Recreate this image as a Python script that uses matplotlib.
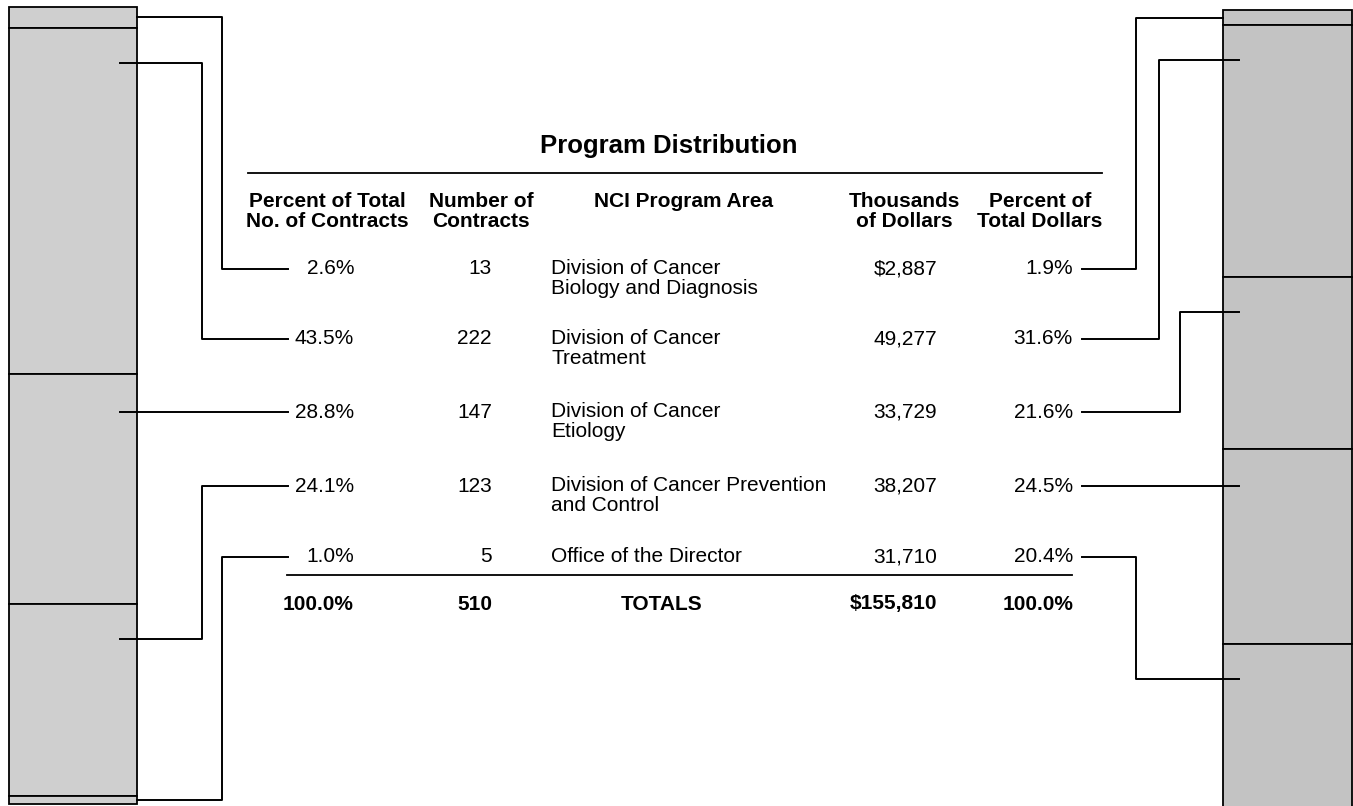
import matplotlib
matplotlib.use("Agg")
import matplotlib.pyplot as plt

plt.rcParams["font.family"] = ["Liberation Sans", "DejaVu Sans"]

# table data
pct_contracts = [2.6, 43.5, 28.8, 24.1, 1.0]
num_contracts = [13, 222, 147, 123, 5]
program_areas = [
    "Division of Cancer\nBiology and Diagnosis",
    "Division of Cancer\nTreatment",
    "Division of Cancer\nEtiology",
    "Division of Cancer Prevention\nand Control",
    "Office of the Director",
]
dollars_k = [2887, 49277, 33729, 38207, 31710]
pct_dollars = [1.9, 31.6, 21.6, 24.5, 20.4]

headers = [
    "Percent of Total\nNo. of Contracts",
    "Number of\nContracts",
    "NCI Program Area",
    "Thousands\nof Dollars",
    "Percent of\nTotal Dollars",
]

W, H = 1353, 806
fig = plt.figure(figsize=(W / 100, H / 100), dpi=100)

# overlay axes in pixel units, drawn above the bars
ax = fig.add_axes([0, 0, 1, 1])
ax.set_xlim(0, W)
ax.set_ylim(H, 0)
ax.axis("off")
ax.set_zorder(3)


def add_bar_axes(x0, x1, top_px):
    # 100 % of a bar spans 797 px
    bax = fig.add_axes([x0 / W, (H - top_px - 797) / H, (x1 - x0) / W, 797 / H])
    bax.set_xlim(-0.5, 0.5)
    bax.set_ylim(100, 0)
    bax.axis("off")
    bax.set_zorder(1)
    return bax


def stacked_bar(bax, values, color):
    bottom = 0
    for v in values:
        bax.bar(0, v, bottom=bottom, width=1, color=color,
                edgecolor="black", linewidth=1.3, clip_on=False)
        bottom += v


left_bar = add_bar_axes(9, 137, 7)
right_bar = add_bar_axes(1223, 1352, 10)
stacked_bar(left_bar, pct_contracts, "#cfcfcf")
stacked_bar(right_bar, pct_dollars, "#c3c3c3")


def to_px(bax, v):
    disp = bax.transData.transform((0, v))
    return ax.transData.inverted().transform(disp)[1]


# layout of rows and columns (pixels)
row_y = [269, 339, 412, 486, 557]
fs = 15
ls = 1.05

col_pct_c = 354
col_num = 492
col_area = 551
col_dol = 937
col_pct_d = 1073

ax.text(669, 153, "Program Distribution", fontsize=18.5, fontweight="bold",
        ha="center", va="baseline")
ax.plot([248, 1102], [173, 173], color="black", lw=1.3)

hx = [327, 481, 684, 904, 1040]
for x, h in zip(hx, headers):
    ax.text(x, 192, h, fontsize=fs, fontweight="bold", ha="center", va="top",
            multialignment="center", linespacing=ls)

for i, y in enumerate(row_y):
    ax.text(col_pct_c, y, f"{pct_contracts[i]:.1f}%", fontsize=fs, ha="right", va="center")
    ax.text(col_num, y, f"{num_contracts[i]}", fontsize=fs, ha="right", va="center")
    ax.text(col_area, y - 10, program_areas[i], fontsize=fs, ha="left", va="top",
            linespacing=ls)
    dol = f"{dollars_k[i]:,}"
    if i == 0:
        dol = "$" + dol
    ax.text(col_dol, y, dol, fontsize=fs, ha="right", va="center")
    ax.text(col_pct_d, y, f"{pct_dollars[i]:.1f}%", fontsize=fs, ha="right", va="center")

ax.plot([287, 1072], [575, 575], color="black", lw=1.3)
ty = 604
ax.text(col_pct_c, ty, f"{sum(pct_contracts):.1f}%", fontsize=fs, fontweight="bold", ha="right", va="center")
ax.text(col_num, ty, f"{sum(num_contracts)}", fontsize=fs, fontweight="bold", ha="right", va="center")
ax.text(662, ty, "TOTALS", fontsize=fs, fontweight="bold", ha="center", va="center")
ax.text(col_dol, ty, f"${sum(dollars_k):,}", fontsize=fs, fontweight="bold", ha="right", va="center")
ax.text(col_pct_d, ty, f"{sum(pct_dollars):.1f}%", fontsize=fs, fontweight="bold", ha="right", va="center")


def connectors(bax, values, start_x, elbows, edge_x, inner_x):
    top = 0
    for v, y, ex in zip(values, row_y, elbows):
        if ex is None:
            ax.plot([start_x, inner_x], [y, y], color="black", lw=1.4)
        else:
            if v < 5:
                ty_ = to_px(bax, top + v / 2)
                end = edge_x
            else:
                ty_ = to_px(bax, top + 4.4)
                end = inner_x
            ax.plot([start_x, ex, ex, end], [y, y, ty_, ty_], color="black", lw=1.4)
        top += v


connectors(left_bar, pct_contracts, 288, [222, 202, None, 202, 222], 137, 120)
connectors(right_bar, pct_dollars, 1082, [1136, 1159, 1180, None, 1136], 1223, 1239)

fig.savefig("out.png", dpi=100)
